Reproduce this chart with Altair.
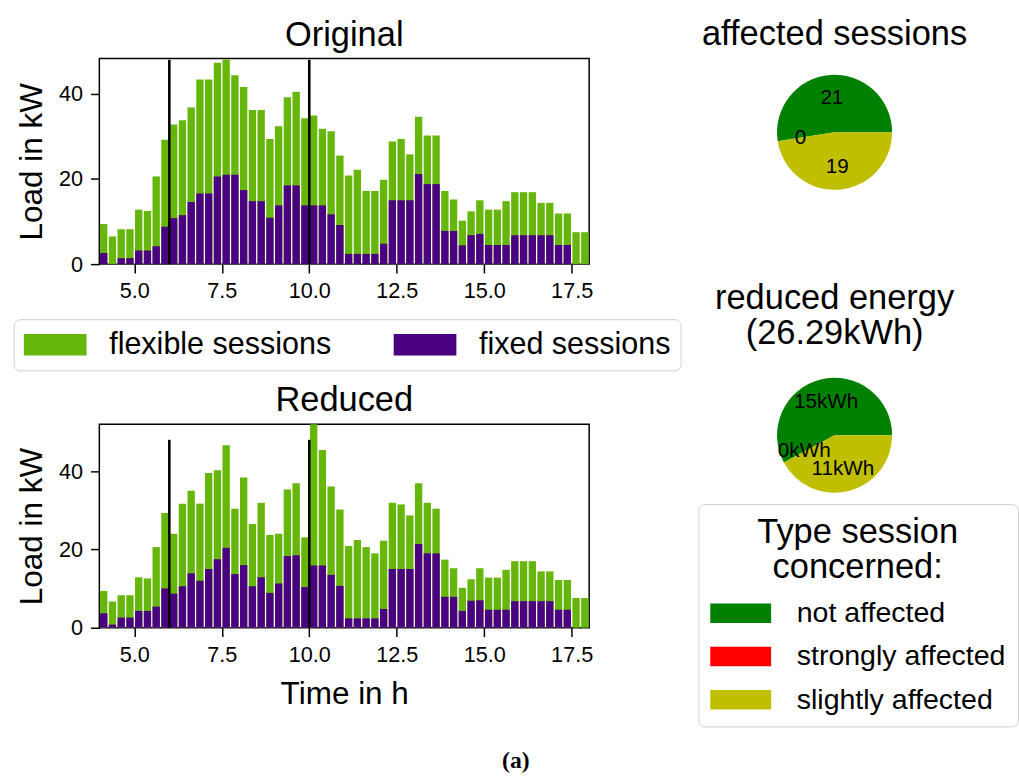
import math
import altair as alt
import pandas as pd

# ---------------- data ----------------
time_h = [4.0, 4.25, 4.5, 4.75, 5.0, 5.25, 5.5, 5.75, 6.0, 6.25, 6.5, 6.75,
          7.0, 7.25, 7.5, 7.75, 8.0, 8.25, 8.5, 8.75, 9.0, 9.25, 9.5, 9.75,
          10.0, 10.25, 10.5, 10.75, 11.0, 11.25, 11.5, 11.75, 12.0, 12.25,
          12.5, 12.75, 13.0, 13.25, 13.5, 13.75, 14.0, 14.25, 14.5, 14.75,
          15.0, 15.25, 15.5, 15.75, 16.0, 16.25, 16.5, 16.75, 17.0, 17.25,
          17.5, 17.75]

orig_total = [9.4, 6.5, 8.2, 8.2, 12.8, 12.5, 20.6, 29.2, 32.8, 33.8, 36.8, 43.4,
              43.4, 47.3, 48.1, 44.4, 41.6, 36.2, 36.2, 29.4, 32.4, 39.2, 40.5, 34.3,
              34.9, 31.8, 31.2, 25.5, 20.8, 22.2, 17.2, 17.2, 19.8, 28.8, 29.4, 25.8,
              34.6, 30.2, 30.2, 17.2, 15.2, 10.2, 12.4, 15.0, 12.8, 12.8, 14.8, 16.9,
              16.9, 16.9, 14.4, 14.4, 11.9, 11.9, 7.5, 7.5]
orig_fixed = [2.6, 0.0, 1.4, 1.4, 3.2, 3.2, 4.2, 8.8, 10.8, 11.5, 14.6, 16.6,
              16.6, 20.6, 21.0, 21.0, 17.4, 14.8, 14.8, 10.9, 13.8, 18.5, 18.5, 13.8,
              13.8, 13.8, 11.7, 9.2, 2.4, 2.4, 2.4, 2.4, 4.8, 15.0, 15.0, 15.0,
              21.2, 18.8, 18.8, 7.8, 7.8, 4.4, 6.8, 7.1, 4.5, 4.5, 4.5, 6.8,
              6.8, 6.8, 6.8, 6.8, 4.5, 4.5, 0.0, 0.0]

red_total = [9.4, 6.7, 8.3, 8.3, 12.9, 12.6, 20.6, 29.3, 24.0, 31.7, 35.0, 31.7,
             39.5, 40.2, 46.6, 30.4, 38.4, 26.5, 31.9, 23.7, 24.0, 35.3, 36.9, 23.1,
             52.0, 45.4, 36.1, 30.2, 20.9, 22.4, 20.6, 19.0, 22.2, 31.9, 31.5, 28.7,
             36.9, 31.9, 30.4, 17.4, 15.2, 10.2, 12.4, 15.2, 12.8, 12.8, 14.8, 17.0,
             17.0, 17.0, 14.4, 14.4, 12.2, 12.2, 7.6, 7.6]
red_fixed = [3.7, 0.8, 2.6, 2.6, 4.3, 4.3, 5.4, 10.0, 8.7, 10.6, 13.9, 12.0,
             15.0, 17.5, 20.4, 13.7, 16.0, 10.6, 12.9, 8.9, 11.3, 18.3, 18.5, 10.4,
             15.9, 15.9, 13.5, 10.7, 2.4, 2.4, 2.4, 2.4, 4.8, 15.0, 15.0, 15.0,
             21.4, 19.0, 19.0, 7.9, 7.9, 4.3, 6.9, 7.0, 4.6, 4.6, 4.6, 6.8,
             6.8, 6.8, 6.8, 6.8, 4.6, 4.6, 0.0, 0.0]

marker_time = [6.0, 10.0]
marker_top = [48.0, 48.0]
marker_bottom = [0.0, 0.0]

x_ticks = [5.0, 7.5, 10.0, 12.5, 15.0, 17.5]
y_ticks = [0, 20, 40]

series_names = ["flexible sessions", "fixed sessions"]
series_colors = ["#66b60c", "#4b0082"]

pie_cats = ["not affected", "strongly affected", "slightly affected"]
pie_colors = ["#008000", "#ff0000", "#bfbf00"]
pie_stack_order = [2, 1, 0]
sessions = [21, 0, 19]
energy_kwh = [15.2, 0.0, 11.09]

FONT = "Liberation Sans"


def bar_panel(total, fixed, title, ymax, xtitle, legend, height):
    rows = []
    for t, tot in zip(time_h, total):
        rows.append({"t": t, "series": series_names[0], "value": tot, "layer": 0})
    for t, fx in zip(time_h, fixed):
        rows.append({"t": t, "series": series_names[1], "value": fx, "layer": 1})
    df = pd.DataFrame(rows)

    xscale = alt.Scale(domain=[4, 18], nice=False, zero=False)
    yscale = alt.Scale(domain=[0, ymax], nice=False)
    xaxis = alt.Axis(values=x_ticks, format=".1f", title=xtitle, titlePadding=14)
    yaxis = alt.Axis(values=y_ticks, title="Load in kW", titlePadding=10)

    bars = alt.Chart(df).transform_calculate(
        x0="datum.t + 0.02", x1="datum.t + 0.23"
    ).mark_bar(strokeWidth=0).encode(
        x=alt.X("x0:Q", scale=xscale, axis=xaxis),
        x2="x1:Q",
        y=alt.Y("value:Q", scale=yscale, axis=yaxis, stack=None),
        y2=alt.datum(0),
        color=alt.Color("series:N", scale=alt.Scale(domain=series_names, range=series_colors),
                        legend=legend),
        order=alt.Order("layer:Q"),
    )

    mk = pd.DataFrame({"x0": marker_time, "top": marker_top, "bottom": marker_bottom})
    rules = alt.Chart(mk).mark_rule(color="black", strokeWidth=2.6).encode(
        x=alt.X("x0:Q", scale=xscale, axis=xaxis),
        y=alt.Y("top:Q", scale=yscale, axis=yaxis),
        y2="bottom:Q",
    )
    return alt.layer(bars, rules).properties(
        width=498, height=height,
        title=alt.TitleParams(title, fontSize=35, font=FONT, fontWeight="normal", offset=6),
    )


bar_legend = alt.Legend(
    orient="none", legendX=-87, legendY=265, direction="horizontal", title=None,
    symbolType="M-1,-0.34H1V0.34H-1Z", symbolSize=4096, symbolStrokeWidth=0,
    symbolOpacity=1, labelFontSize=31, labelFont=FONT, labelOffset=23,
    columnPadding=63, padding=10, clipHeight=32, strokeColor="#cfcfcf",
    cornerRadius=6, fillColor="white", labelLimit=400,
)

top = bar_panel(orig_total, orig_fixed, "Original", 48.3, None, bar_legend, 209)
bottom = bar_panel(red_total, red_fixed, "Reduced", 52.0, "Time in h", None, 207)


def pie_panel(values, labels, title, legend, offset):
    df = pd.DataFrame({"cat": pie_cats, "v": values, "ord": pie_stack_order, "lab": labels})
    theta = alt.Theta("v:Q", stack=True,
                      scale=alt.Scale(range=[math.pi / 2, math.pi / 2 + 2 * math.pi]))
    arc = alt.Chart(df).mark_arc(outerRadius=58.5).encode(
        theta=theta,
        order=alt.Order("ord:Q"),
        color=alt.Color("cat:N", scale=alt.Scale(domain=pie_cats, range=pie_colors),
                        legend=legend),
    )
    txt = alt.Chart(df).mark_text(radius=35, fontSize=21, font=FONT, color="black").encode(
        theta=theta,
        order=alt.Order("ord:Q"),
        detail="cat:N",
        text="lab:N",
    )
    return alt.layer(arc, txt).properties(
        width=117, height=150,
        view=alt.ViewBackground(stroke="transparent"),
        title=alt.TitleParams(title, fontSize=35, font=FONT, fontWeight="normal",
                              offset=offset, lineHeight=35),
    )


pie_legend = alt.Legend(
    orient="none", legendX=-80, legendY=145,
    title=["Type session", "concerned:"], titleFontSize=35, titleFont=FONT,
    titleFontWeight="normal", titleAlign="center", titleAnchor="middle",
    titleLineHeight=35, titlePadding=14, titleLimit=400, titleColor="black",
    symbolType="M-1,-0.32H1V0.32H-1Z", symbolSize=3844, symbolStrokeWidth=0,
    symbolOpacity=1, labelFontSize=29, labelFont=FONT, labelOffset=26,
    rowPadding=14, padding=12, clipHeight=30, strokeColor="#cfcfcf",
    cornerRadius=6, fillColor="white", labelLimit=400, direction="vertical",
)

pie1 = pie_panel(sessions, [str(v) for v in sessions], "affected sessions", None, 7)
pie2 = pie_panel(energy_kwh, ["%.0fkWh" % v for v in energy_kwh],
                 ["reduced energy", "(26.29kWh)"], pie_legend, 11)

left = alt.vconcat(top, bottom, spacing=162.7, bounds="flush").resolve_scale(color="independent")
right = alt.vconcat(pie1, pie2, spacing=158, bounds="flush").resolve_scale(color="independent")

chart = alt.hconcat(left, right, spacing=15).resolve_scale(
    color="independent"
).properties(
    padding={"left": 12, "top": 10, "right": 0, "bottom": 4},
    title=alt.TitleParams("(a)", orient="bottom", anchor="middle", font="Liberation Serif",
                          fontWeight="bold", fontSize=24, offset=22),
).configure_view(
    stroke="black", strokeWidth=1.5
).configure_axis(
    labelFont=FONT, labelFontSize=22, labelColor="black", titleFont=FONT,
    titleFontSize=32, titleFontWeight="normal", titleColor="black",
    tickColor="black", tickSize=9, tickWidth=1.5, domain=False, grid=False,
    labelPadding=8,
).configure_legend(
    labelColor="black"
).configure_title(
    color="black"
)

chart.save("out.html", embed_options={"renderer": "svg", "actions": False})
